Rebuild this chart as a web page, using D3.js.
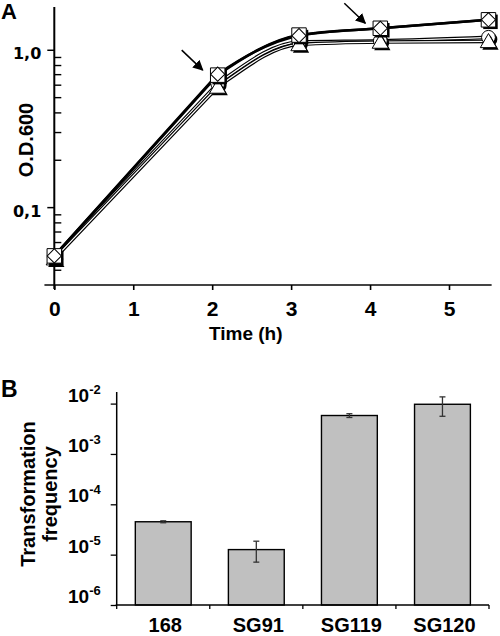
<!DOCTYPE html>
<html>
<head>
<meta charset="utf-8">
<script src="https://cdn.jsdelivr.net/npm/d3@7"></script>
<style>
  html, body { margin: 0; padding: 0; background: #fff; }
  svg { display: block; }
  text { font-family: "Liberation Sans", Arial, sans-serif; font-weight: bold; fill: #000; }
</style>
</head>
<body>
<svg id="chart" width="500" height="636"></svg>
<script>
// ---------- Panel A data ----------
const timesA = [0, 2.07, 3.1, 4.13, 5.5];
const odSquare   = [0.049, 0.69, 1.24, 1.37, 1.55];
const odDiamond  = [0.049, 0.70, 1.23, 1.37, 1.55];
const odCircle   = [0.048, 0.61, 1.12, 1.14, 1.20];
const odTriangle = [0.047, 0.58, 1.08, 1.12, 1.13];
const xTicksA = [0, 1, 2, 3, 4, 5];
const yMajorA = [0.1, 1];
const yMajorLabelsA = ["0,1", "1,0"];
const yMinorA = [0.04, 0.05, 0.06, 0.07, 0.08, 0.09, 0.2, 0.3, 0.4, 0.5, 0.6, 0.7, 0.8, 0.9];
const arrowTimes = [2.07, 4.13];
const arrowValues = [0.69, 1.37];

// ---------- Panel B data ----------
const strains = ["168", "SG91", "SG119", "SG120"];
const freqValues = [4.5e-5, 1.26e-5, 5.8e-3, 9.7e-3];
const freqLow    = [4.3e-5, 7.1e-6, 5.3e-3, 5.6e-3];
const freqHigh   = [4.7e-5, 1.85e-5, 6.3e-3, 1.36e-2];
const yTicksB = [1e-2, 1e-3, 1e-4, 1e-5, 1e-6];
const yTickExpB = ["-2", "-3", "-4", "-5", "-6"];

const svg = d3.select("#chart");

// ================= Panel A =================
const xA = d3.scaleLinear().domain([0, 5]).range([54.3, 449]);
const yA = d3.scaleLog().domain([0.032, 1.87]).range([285, 7]);
const gA = svg.append("g");

svg.append("text").attr("x", 1).attr("y", 19).style("font-size", "22px").text("A");

// x axis
const xAxisA = gA.append("g").attr("transform", "translate(0,285)")
  .call(d3.axisBottom(xA).tickValues(xTicksA).tickSize(5).tickSizeOuter(0).tickFormat(d3.format("d")));
xAxisA.select(".domain").remove();
xAxisA.selectAll(".tick line").attr("stroke", "#000").attr("stroke-width", 1.6);
xAxisA.selectAll(".tick text").attr("y", 31).attr("dy", null)
  .style("font-size", "21px");
xAxisA.insert("line", ":first-child")
  .attr("x1", xA(-0.125)).attr("x2", xA(5.54)).attr("y1", 0).attr("y2", 0)
  .attr("stroke", "#444").attr("stroke-width", 2);

gA.append("text").attr("x", 209).attr("y", 340).style("font-size", "19px").text("Time (h)");

// y axis
const yAxisA = gA.append("g").attr("transform", `translate(${xA(0)},0)`)
  .call(d3.axisLeft(yA).tickValues(yMajorA).tickSize(7).tickSizeOuter(0)
    .tickFormat((d, i) => yMajorLabelsA[i]));
yAxisA.select(".domain").remove();
yAxisA.selectAll(".tick line").attr("stroke", "#000").attr("stroke-width", 1.5);
yAxisA.selectAll(".tick text").attr("x", -13).attr("y", 9).attr("dy", null)
  .style("font-size", "16px").style("font-family", "'DejaVu Sans', sans-serif");
const yMinorAxis = gA.append("g").attr("transform", `translate(${xA(0)},0)`)
  .call(d3.axisRight(yA).tickValues(yMinorA).tickSize(7).tickSizeOuter(0).tickFormat(""));
yMinorAxis.select(".domain").remove();
yMinorAxis.selectAll(".tick line").attr("stroke", "#000").attr("stroke-width", 1.4);
gA.append("line").attr("x1", xA(0)).attr("x2", xA(0)).attr("y1", yA.range()[1]).attr("y2", 289)
  .attr("stroke", "#000").attr("stroke-width", 2);

// series
const seriesA = [
  { name: "circle", vals: odCircle },
  { name: "triangle", vals: odTriangle },
  { name: "square", vals: odSquare },
  { name: "diamond", vals: odDiamond }
];

// smooth path: straight exponential phase, smoothed afterwards
function growthPath(vals) {
  const p = d3.path();
  let nBez = 0;
  const ctx = {
    moveTo: (x, y) => p.moveTo(x, y),
    lineTo: (x, y) => p.lineTo(x, y),
    closePath: () => p.closePath(),
    bezierCurveTo: (a, b, c, d, x, y) => {
      if (nBez === 0) p.lineTo(x, y); else p.bezierCurveTo(a, b, c, d, x, y);
      nBez++;
    }
  };
  d3.line().x((d, i) => xA(timesA[i])).y(d => yA(d)).curve(d3.curveMonotoneX).context(ctx)(vals);
  return p.toString();
}

["circle", "triangle"].forEach(n => {
  const s = seriesA.find(q => q.name === n);
  gA.append("path").attr("d", growthPath(s.vals)).attr("fill", "none").attr("stroke", "#000").attr("stroke-width", 3.6);
  gA.append("path").attr("d", growthPath(s.vals)).attr("fill", "none").attr("stroke", "#fff").attr("stroke-width", 1.2);
});
["square", "diamond"].forEach(n => {
  const s = seriesA.find(q => q.name === n);
  gA.append("path").attr("d", growthPath(s.vals)).attr("fill", "none").attr("stroke", "#000").attr("stroke-width", 2.6);
});

// markers
const symGen = {
  circle: { gen: d3.symbol().type(d3.symbolCircle).size(150), rot: 0 },
  triangle: { gen: d3.symbol().type(d3.symbolTriangle).size(115), rot: 0 },
  square: { gen: d3.symbol().type(d3.symbolSquare).size(210), rot: 0 },
  diamond: { gen: d3.symbol().type(d3.symbolSquare).size(100), rot: 45 }
};
seriesA.forEach(s => {
  const g = gA.append("g");
  const sg = symGen[s.name];
  s.vals.forEach((v, i) => {
    const cx = xA(timesA[i]), cy = yA(v);
    const dy = s.name === "triangle" ? 1.5 : 0;
    if (s.name !== "diamond") {
      g.append("path").attr("d", sg.gen())
        .attr("transform", `translate(${cx + 2},${cy + 2 + dy}) rotate(${sg.rot})`).attr("fill", "#000");
    }
    g.append("path").attr("d", sg.gen())
      .attr("transform", `translate(${cx},${cy + dy}) rotate(${sg.rot})`)
      .attr("fill", "#fff").attr("stroke", "#000").attr("stroke-width", 1);
  });
});

// arrows
const defs = svg.append("defs");
defs.append("marker").attr("id", "ah").attr("viewBox", "0 0 10 10").attr("refX", 9).attr("refY", 5)
  .attr("markerWidth", 7).attr("markerHeight", 7).attr("orient", "auto")
  .append("path").attr("d", "M0,0 L10,5 L0,10 z").attr("fill", "#000");
arrowTimes.forEach((t, i) => {
  const tx = xA(t) - 15, ty = yA(arrowValues[i]) - 5;
  gA.append("line").attr("x1", tx - 21).attr("y1", ty - 20).attr("x2", tx).attr("y2", ty)
    .attr("stroke", "#000").attr("stroke-width", 1.5).attr("marker-end", "url(#ah)");
});

gA.append("text").attr("transform", "translate(33,140) rotate(-90)")
  .attr("text-anchor", "middle").style("font-size", "20px").text("O.D.600");

// ================= Panel B =================
const xB = d3.scaleBand().domain(strains).range([116.7, 489]).padding(0);
const yB = d3.scaleLog().domain([1e-6, 1.7e-2]).range([605, 392]);
const gB = svg.append("g");

svg.append("text").attr("x", 1).attr("y", 397).style("font-size", "23px").text("B");

const bw = xB.bandwidth();
gB.selectAll("rect.bar").data(strains).enter().append("rect")
  .attr("x", d => xB(d) + bw * 0.2)
  .attr("width", bw * 0.6)
  .attr("y", (d, i) => yB(freqValues[i]))
  .attr("height", (d, i) => yB.range()[0] - yB(freqValues[i]))
  .attr("fill", "#c0c0c0").attr("stroke", "#000").attr("stroke-width", 1.4);

strains.forEach((d, i) => {
  const cx = xB(d) + bw / 2;
  const g = gB.append("g").attr("stroke", "#333").attr("stroke-width", 1.3);
  g.append("line").attr("x1", cx).attr("x2", cx).attr("y1", yB(freqLow[i])).attr("y2", yB(freqHigh[i]));
  g.append("line").attr("x1", cx - 3).attr("x2", cx + 3).attr("y1", yB(freqLow[i])).attr("y2", yB(freqLow[i]));
  g.append("line").attr("x1", cx - 3).attr("x2", cx + 3).attr("y1", yB(freqHigh[i])).attr("y2", yB(freqHigh[i]));
});

const yAxisB = gB.append("g").attr("transform", `translate(${xB.range()[0]},0)`)
  .call(d3.axisLeft(yB).tickValues(yTicksB).tickSize(6).tickSizeOuter(0).tickFormat(""));
yAxisB.select(".domain").remove();
yAxisB.selectAll(".tick line").attr("stroke", "#000").attr("stroke-width", 1.3);
gB.append("line").attr("x1", xB.range()[0]).attr("x2", xB.range()[0]).attr("y1", yB.range()[1]).attr("y2", 605)
  .attr("stroke", "#000").attr("stroke-width", 1.5);
yTicksB.forEach((t, i) => {
  const txt = gB.append("text").attr("x", xB.range()[0] - 16).attr("y", yB(t) - 2)
    .attr("text-anchor", "end").style("font-size", "19px");
  txt.append("tspan").text("10");
  txt.append("tspan").attr("dy", -8).style("font-size", "13px").text(yTickExpB[i]);
});

gB.append("line").attr("x1", xB.range()[0] - 1).attr("x2", xB.range()[1]).attr("y1", 605).attr("y2", 605)
  .attr("stroke", "#000").attr("stroke-width", 1.5);
strains.map(d => xB(d)).concat([xB.range()[1]]).forEach(x => {
  gB.append("line").attr("x1", x).attr("x2", x).attr("y1", 605).attr("y2", 609)
    .attr("stroke", "#000").attr("stroke-width", 1.3);
});
gB.selectAll("text.xl").data(strains).enter().append("text")
  .attr("x", d => xB(d) + bw / 2 + 2).attr("y", 632).attr("text-anchor", "middle")
  .style("font-size", "20px").text(d => d);

const ylab = gB.append("text").attr("transform", "translate(35,494) rotate(-90)")
  .attr("text-anchor", "middle").style("font-size", "20px");
ylab.append("tspan").attr("x", 0).attr("y", 0).text("Transformation");
ylab.append("tspan").attr("x", 0).attr("y", 22).text("frequency");
</script>
</body>
</html>
